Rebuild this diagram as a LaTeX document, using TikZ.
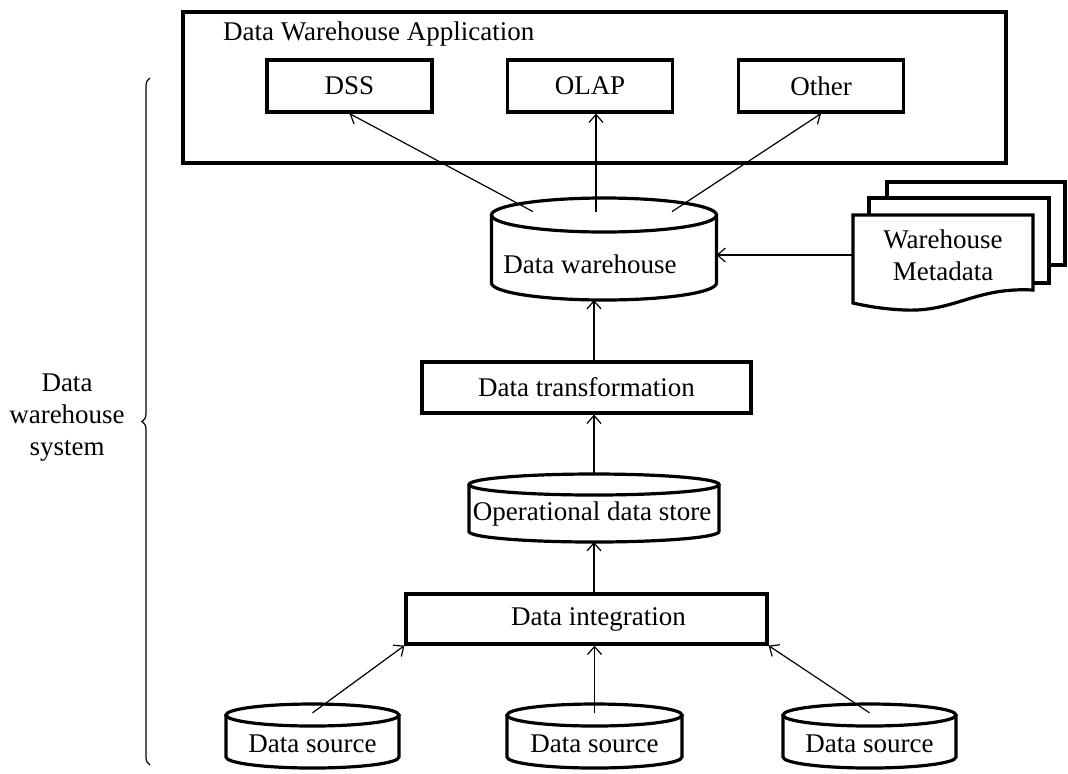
\documentclass[tikz,border=0pt]{standalone}
\usepackage{fontspec}
\setmainfont{Liberation Serif}
\usetikzlibrary{arrows.meta,decorations.pathreplacing}

\tikzset{
	box/.style={draw,line width=1.6pt,inner sep=0pt},
	outline/.style={line width=1.6pt},
	page/.style={draw,fill=white,line width=1.6pt},
	flow/.style={line width=0.6pt,-{Straight Barb[length=4pt,width=7pt]}}
}

% database cylinder: name, cx, top, bottom, half width, ry, text x, text y, text
\newcommand{\dbstore}[9]{%
	\draw[outline,fill=white] (#2-#5,#3+#6) -- (#2-#5,#4-#6)
		arc[start angle=180,end angle=360,x radius=#5*0.5pt,y radius=#6*0.5pt] -- (#2+#5,#3+#6);
	\draw[outline] (#2,#3+#6) ellipse[x radius=#5*0.5pt,y radius=#6*0.5pt];
	\coordinate (#1-top) at (#2,#3);
	\coordinate (#1-in) at (#2,#3+0.8*#6);
	\coordinate (#1-bot) at (#2,#4);
	\coordinate (#1-east) at (#2+#5,{(#3+#4)/2});
	\node (#1) at (#7,#8) {#9};
}

\begin{document}
\begin{tikzpicture}[x=0.5pt,y=-0.5pt,font=\fontsize{13.5}{16}\selectfont]
	\useasboundingbox (0,0) rectangle (1068,773);

	% application layer
	\node[box,minimum width=411.5pt,minimum height=75.5pt] (app) at (594.5,87.5) {};
	\node[anchor=west] (title) at (216,34) {Data Warehouse Application};
	\begin{scope}[every node/.style={box,minimum width=82.5pt,minimum height=26pt}]
		\node (dss) at (349.5,86) {DSS};
		\node (olap) at (590,86) {OLAP};
		\node (other) at (821,86) {Other};
	\end{scope}

	% stores
	\dbstore{dw}{604}{198}{300}{112.5}{17}{590}{264}{Data warehouse}
	\dbstore{ods}{594}{474}{542}{125}{10.5}{592}{514}{Operational data store}
	\dbstore{srcA}{312.5}{704}{768}{86.5}{11}{312.5}{744}{Data source}
	\dbstore{srcB}{594.5}{704}{768}{87.5}{11}{594.5}{744}{Data source}
	\dbstore{srcC}{869.5}{704}{768}{86.5}{11}{869.5}{744}{Data source}

	\node[box,minimum width=164.5pt,minimum height=25.5pt] (dt) at (586.5,387.5) {Data transformation};
	\node[box,minimum width=180.5pt,minimum height=25pt] (di) at (586.5,619) {\hspace{12pt}Data integration};

	% metadata pages
	\draw[page] (887,182) rectangle (1065,265);
	\draw[page] (869,198) rectangle (1049,283);
	\draw[page] (853,215) -- (1033,215) -- (1033,290) .. controls (975,287) and (955,312) .. (905,310)
		.. controls (880,309) and (862,305) .. (853,303) -- cycle;
	\node[align=center,minimum width=90pt,inner xsep=0pt] (meta) at (943,255) {Warehouse\\Metadata};

	% flows
	\draw[flow] ([xshift=-35.5pt]dw-in) -- (dss.south);
	\draw[flow] ([xshift=-4pt]dw-in) -- ([xshift=-4pt]dw-in |- olap.south);
	\draw[flow] ([xshift=34pt]dw-in) -- (other.south);
	\draw[flow] (meta.west) -- (dw-east |- meta.west);
	\draw[flow] (dt.north -| ods-top) -- (dw-bot -| ods-top);
	\draw[flow] (ods-top) -- (ods-top |- dt.south);
	\draw[flow] (di.north -| ods-bot) -- (ods-bot);
	\draw[flow] (srcA-in) -- (di.south west);
	\draw[flow] (srcB-in) -- (srcB-in |- di.south);
	\draw[flow] (srcC-in) -- (di.south east);

	% system brace
	\draw[decorate,decoration={brace,amplitude=4pt},line width=0.6pt] (150,765) -- (150,78);
	\node[align=center] (sys) at (67,418) {Data\\warehouse\\system};
\end{tikzpicture}
\end{document}
